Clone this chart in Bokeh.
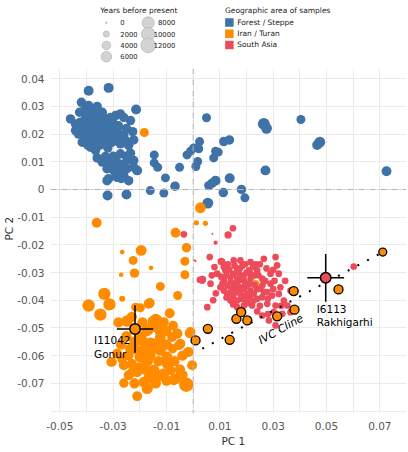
import math
from bokeh.plotting import figure
from bokeh.models import Range1d, FixedTicker, CustomJSTickFormatter, Span, Title, ColumnDataSource
from bokeh.layouts import column
from bokeh.embed import file_html
from bokeh.resources import INLINE
from bokeh.core.properties import value

FONT = "DejaVu Sans"
BLUE = "#3F72A6"
ORANGE = "#FF8C00"
RED = "#EE4B5A"

# ---------------- data: (PC1, PC2, years before present) ----------------
forest_steppe = [
    (-0.0392, 0.0357, 5500), (-0.0317, 0.0367, 5500), (-0.0419, 0.0315, 5000), (-0.0392, 0.0303, 5000),
    (-0.0426, 0.0279, 5000), (-0.0407, 0.0288, 5000), (-0.0341, 0.0279, 5000), (-0.0291, 0.0267, 5000),
    (-0.0273, 0.0273, 5000), (-0.0214, 0.0289, 5500), (-0.0460, 0.0255, 5000), (-0.0441, 0.0237, 5000),
    (-0.0423, 0.0243, 5000), (-0.0404, 0.0255, 5000), (-0.0385, 0.0249, 5000), (-0.0366, 0.0255, 5000),
    (-0.0348, 0.0249, 5000), (-0.0329, 0.0243, 5000), (-0.0310, 0.0237, 5000), (-0.0429, 0.0219, 5000),
    (-0.0410, 0.0225, 5000), (-0.0392, 0.0225, 5000), (-0.0373, 0.0231, 5000), (-0.0354, 0.0225, 5000),
    (-0.0335, 0.0225, 5000), (-0.0317, 0.0219, 5000), (-0.0298, 0.0213, 5000), (-0.0279, 0.0201, 5000),
    (-0.0260, 0.0195, 5000), (-0.0235, 0.0249, 5000), (-0.0227, 0.0209, 5000), (-0.0223, 0.0179, 5000),
    (-0.0254, 0.0177, 5000), (-0.0242, 0.0159, 5000), (-0.0273, 0.0165, 5000), (-0.0304, 0.0171, 5000),
    (-0.0329, 0.0177, 5000), (-0.0354, 0.0177, 5000), (-0.0379, 0.0171, 5000), (-0.0416, 0.0171, 5000),
    (-0.0398, 0.0207, 5000), (-0.0379, 0.0201, 5000), (-0.0360, 0.0195, 5000), (-0.0341, 0.0195, 5000),
    (-0.0441, 0.0213, 5000), (-0.0385, 0.0153, 5000), (-0.0366, 0.0141, 5000), (-0.0360, 0.0114, 5000),
    (-0.0329, 0.0119, 5000), (-0.0310, 0.0099, 5000), (-0.0273, 0.0129, 5000), (-0.0235, 0.0131, 5000),
    (-0.0223, 0.0105, 5000), (-0.0248, 0.0105, 5000), (-0.0279, 0.0093, 5000), (-0.0323, 0.0075, 5000),
    (-0.0298, 0.0069, 5000), (-0.0266, 0.0069, 5000), (-0.0248, 0.0075, 5000), (-0.0210, 0.0069, 5500),
    (-0.0317, 0.0039, 5000), (-0.0285, 0.0044, 5000), (-0.0242, 0.0032, 5000), (-0.0310, 0.0087, 5000),
    (-0.0291, 0.0105, 5000), (-0.0260, 0.0051, 5000), (-0.0323, 0.0032, 5000), (-0.0341, 0.0099, 5000),
    (-0.0223, 0.0081, 5000), (-0.0370, 0.0270, 5000), (-0.0350, 0.0210, 5000), (-0.0310, 0.0260, 5000),
    (-0.0390, 0.0190, 5000), (-0.0300, 0.0190, 5000), (-0.0260, 0.0260, 5000), (-0.0280, 0.0230, 5000),
    (-0.0250, 0.0220, 5000), (-0.0400, 0.0270, 5000), (-0.0380, 0.0285, 5000), (-0.0360, 0.0300, 5000),
    (-0.0340, 0.0265, 5000), (-0.0320, 0.0250, 5000), (-0.0300, 0.0240, 5000), (-0.0420, 0.0230, 5000),
    (-0.0400, 0.0240, 5000), (-0.0370, 0.0240, 5000), (-0.0345, 0.0235, 5000), (-0.0320, 0.0230, 5000),
    (-0.0290, 0.0225, 5000), (-0.0430, 0.0200, 5000), (-0.0410, 0.0195, 5000), (-0.0370, 0.0185, 5000),
    (-0.0345, 0.0185, 5000), (-0.0315, 0.0200, 5000), (-0.0290, 0.0185, 5000), (-0.0395, 0.0160, 5000),
    (-0.0350, 0.0160, 5000), (-0.0320, 0.0150, 5000), (-0.0330, 0.0100, 5000), (-0.0300, 0.0080, 5000),
    (-0.0270, 0.0090, 5000), (-0.0250, 0.0120, 5000), (-0.0300, 0.0120, 5000), (-0.0290, 0.0060, 5000),
    (-0.0270, 0.0040, 5000),
    (-0.0321, -0.0022, 5500), (-0.0250, -0.0018, 5500), (-0.0161, -0.0004, 4500), (-0.0110, -0.0013, 4500),
    (-0.0146, 0.0125, 4500), (-0.0146, 0.0096, 4500), (-0.0133, 0.0080, 4500), (-0.0104, 0.0042, 4500),
    (-0.0068, 0.0012, 5000), (-0.0051, 0.0080, 4500), (-0.0023, 0.0125, 4500), (-0.0010, 0.0138, 4500),
    (0.0002, 0.0150, 4500), (0.0021, 0.0147, 4500), (0.0024, 0.0173, 4500), (0.0010, 0.0083, 4500),
    (0.0017, 0.0101, 4500), (0.0050, 0.0259, 4500), (0.0265, 0.0237, 8000), (0.0275, 0.0221, 6500),
    (0.0404, 0.0253, 4500), (0.0475, 0.0171, 6500), (0.0465, 0.0161, 5500), (0.0725, 0.0066, 5500),
    (0.0077, 0.0114, 4500), (0.0084, 0.0138, 4500), (0.0094, 0.0135, 4500), (0.0115, 0.0173, 5000),
    (0.0136, 0.0179, 5000), (0.0271, 0.0069, 5500), (0.0137, 0.0041, 5500), (0.0084, 0.0032, 5500),
    (0.0059, 0.0014, 5000), (0.0071, 0.0023, 5000), (0.0113, -0.0011, 5000), (0.0181, 0.0000, 5000),
    (0.0194, -0.0030, 4500), (0.0055, -0.0049, 6500),
]

iran_turan = [
    (-0.0183, 0.0206, 4500), (0.0027, -0.0066, 6500), (0.0012, -0.0120, 1500), (0.0046, -0.0122, 1500),
    (-0.0362, -0.0120, 5500), (-0.0066, -0.0156, 5500), (-0.0025, -0.0210, 5000), (-0.0266, -0.0226, 1200),
    (-0.0195, -0.0220, 6500), (-0.0225, -0.0256, 4500), (-0.0031, -0.0259, 4500), (-0.0158, -0.0283, 1200),
    (-0.0220, -0.0302, 5000), (-0.0270, -0.0308, 1200), (-0.0031, -0.0308, 4500), (-0.0123, -0.0350, 4500),
    (-0.0058, -0.0383, 4500), (-0.0333, -0.0377, 8500), (-0.0392, -0.0419, 8500), (-0.0314, -0.0415, 8500),
    (-0.0348, -0.0452, 8500), (-0.0266, -0.0395, 2000), (-0.0216, -0.0425, 4500), (-0.0198, -0.0427, 4500),
    (-0.0163, -0.0410, 5500), (-0.0167, -0.0413, 5500), (-0.0248, -0.0475, 7500), (-0.0152, -0.0475, 5500),
    (-0.0135, -0.0470, 5500), (-0.0110, -0.0479, 5500), (-0.0088, -0.0447, 5500), (-0.0075, -0.0491, 5000),
    (-0.0013, -0.0519, 5500), (-0.0079, -0.0533, 5500), (-0.0054, -0.0563, 5000), (-0.0077, -0.0575, 5000),
    (-0.0020, -0.0587, 5000), (-0.0004, -0.0635, 5500), (-0.0026, -0.0705, 11500), (-0.0073, -0.0687, 6500),
    (-0.0169, -0.0719, 5000), (-0.0210, -0.0747, 5500), (-0.0260, -0.0699, 5000), (-0.0242, -0.0671, 5500),
    (-0.0210, -0.0660, 5500), (-0.0308, -0.0623, 5000), (-0.0260, -0.0635, 5500), (-0.0266, -0.0611, 5500),
    (-0.0173, -0.0617, 8500), (-0.0148, -0.0653, 7500), (-0.0135, -0.0678, 6500), (-0.0110, -0.0665, 6500),
    (-0.0098, -0.0629, 6500), (-0.0123, -0.0581, 6500), (-0.0160, -0.0557, 8500), (-0.0198, -0.0533, 7500),
    (-0.0173, -0.0509, 7500), (-0.0135, -0.0497, 6500), (-0.0123, -0.0533, 6500), (-0.0098, -0.0605, 6500),
    (-0.0185, -0.0696, 6500), (-0.0285, -0.0593, 5500), (-0.0235, -0.0575, 6500), (-0.0148, -0.0575, 6500),
    (-0.0198, -0.0605, 7500), (-0.0085, -0.0653, 5500), (-0.0141, -0.0467, 5500), (-0.0123, -0.0515, 6500),
    (-0.0010, -0.0515, 5500), (-0.0048, -0.0557, 5500), (-0.0017, -0.0587, 5500), (-0.0148, -0.0563, 9500),
    (-0.0198, -0.0539, 9500), (-0.0173, -0.0587, 9500), (-0.0092, -0.0629, 6500), (-0.0242, -0.0599, 5500),
    (-0.0304, -0.0623, 5000), (-0.0229, -0.0660, 5500), (-0.0204, -0.0647, 8500), (-0.0160, -0.0678, 9500),
    (-0.0123, -0.0671, 6500), (-0.0066, -0.0683, 6500), (-0.0173, -0.0719, 6500), (0.0234, -0.0340, 3000),
    (-0.0280, -0.0480, 6000), (-0.0230, -0.0460, 6000), (-0.0190, -0.0480, 6000), (-0.0160, -0.0500, 6000),
    (-0.0100, -0.0510, 6000), (-0.0060, -0.0520, 6000), (-0.0250, -0.0530, 6000), (-0.0220, -0.0550, 6000),
    (-0.0180, -0.0560, 6000), (-0.0130, -0.0550, 6000), (-0.0100, -0.0560, 6000), (-0.0040, -0.0600, 6000),
    (-0.0270, -0.0560, 6000), (-0.0210, -0.0580, 6000), (-0.0160, -0.0600, 6000), (-0.0130, -0.0620, 6000),
    (-0.0070, -0.0620, 6000), (-0.0050, -0.0650, 6000), (-0.0230, -0.0630, 6000), (-0.0180, -0.0650, 6000),
    (-0.0100, -0.0690, 6000), (-0.0140, -0.0700, 6000), (-0.0220, -0.0700, 6000), (-0.0040, -0.0670, 6000),
]

south_asia = [
    (-0.0035, -0.0162, 2500), (0.0149, -0.0140, 2500), (0.0131, -0.0164, 3000), (0.0084, -0.0192, 1000),
    (0.0072, -0.0160, 200), (0.0062, -0.0244, 2500), (0.0009, -0.0259, 200), (0.0105, -0.0260, 3000),
    (0.0035, -0.0325, 3000), (0.0025, -0.0326, 2500), (0.0005, -0.0256, 300),
    (0.0109, -0.0262, 2500), (0.0152, -0.0256, 2500), (0.0177, -0.0256, 2500), (0.0215, -0.0262, 2500),
    (0.0265, -0.0250, 2500), (0.0309, -0.0244, 2500), (0.0315, -0.0274, 2500), (0.0090, -0.0304, 2500),
    (0.0034, -0.0329, 2500), (0.0065, -0.0340, 2500), (0.0121, -0.0292, 2500), (0.0165, -0.0292, 2500),
    (0.0209, -0.0292, 2500), (0.0240, -0.0292, 2500), (0.0259, -0.0322, 2500), (0.0290, -0.0304, 2500),
    (0.0321, -0.0304, 2500), (0.0115, -0.0329, 2500), (0.0140, -0.0317, 2500), (0.0165, -0.0322, 2500),
    (0.0190, -0.0329, 2500), (0.0215, -0.0322, 2500), (0.0290, -0.0340, 2500), (0.0327, -0.0353, 2500),
    (0.0102, -0.0353, 2500), (0.0128, -0.0347, 2500), (0.0152, -0.0340, 2500), (0.0177, -0.0353, 2500),
    (0.0203, -0.0347, 2500), (0.0252, -0.0358, 2500), (0.0278, -0.0371, 2500), (0.0128, -0.0377, 2500),
    (0.0152, -0.0377, 2500), (0.0177, -0.0377, 2500), (0.0203, -0.0377, 2500), (0.0227, -0.0377, 2500),
    (0.0140, -0.0401, 2500), (0.0165, -0.0401, 2500), (0.0196, -0.0401, 2500), (0.0227, -0.0401, 2500),
    (0.0259, -0.0389, 2500), (0.0296, -0.0383, 2500), (0.0321, -0.0377, 2500), (0.0165, -0.0425, 2500),
    (0.0190, -0.0419, 2500), (0.0221, -0.0419, 2500), (0.0053, -0.0425, 2500), (0.0278, -0.0413, 2500),
    (0.0309, -0.0419, 2500), (0.0340, -0.0401, 2500), (0.0353, -0.0419, 2500), (0.0302, -0.0443, 2500),
    (0.0334, -0.0449, 2500), (0.0365, -0.0443, 2500), (0.0259, -0.0455, 2500), (0.0284, -0.0473, 2500),
    (0.0309, -0.0491, 2500), (0.0365, -0.0365, 2500), (0.0170, -0.0300, 2500), (0.0190, -0.0310, 2500),
    (0.0210, -0.0340, 2500), (0.0180, -0.0360, 2500), (0.0230, -0.0310, 2500), (0.0160, -0.0345, 2500),
    (0.0195, -0.0385, 2500), (0.0240, -0.0360, 2500), (0.0145, -0.0360, 2500), (0.0215, -0.0305, 2500),
    (0.0185, -0.0275, 2500), (0.0235, -0.0270, 2500), (0.0130, -0.0270, 2500), (0.0602, -0.0278, 2500),
    (0.0115, -0.0280, 2500), (0.0135, -0.0290, 2500), (0.0155, -0.0275, 2500), (0.0175, -0.0285, 2500),
    (0.0195, -0.0270, 2500), (0.0225, -0.0280, 2500), (0.0250, -0.0270, 2500), (0.0275, -0.0285, 2500),
    (0.0300, -0.0290, 2500), (0.0105, -0.0315, 2500), (0.0125, -0.0310, 2500), (0.0150, -0.0305, 2500),
    (0.0180, -0.0315, 2500), (0.0200, -0.0300, 2500), (0.0245, -0.0310, 2500), (0.0270, -0.0330, 2500),
    (0.0110, -0.0340, 2500), (0.0140, -0.0335, 2500), (0.0170, -0.0330, 2500), (0.0195, -0.0345, 2500),
    (0.0230, -0.0345, 2500), (0.0260, -0.0345, 2500), (0.0305, -0.0330, 2500), (0.0115, -0.0365, 2500),
    (0.0140, -0.0370, 2500), (0.0165, -0.0365, 2500), (0.0190, -0.0360, 2500), (0.0215, -0.0365, 2500),
    (0.0265, -0.0370, 2500), (0.0300, -0.0360, 2500), (0.0125, -0.0390, 2500), (0.0150, -0.0390, 2500),
    (0.0180, -0.0395, 2500), (0.0210, -0.0390, 2500), (0.0240, -0.0395, 2500), (0.0280, -0.0395, 2500),
    (0.0150, -0.0415, 2500), (0.0205, -0.0410, 2500), (0.0250, -0.0420, 2500), (0.0180, -0.0440, 2500),
    (0.0240, -0.0440, 2500), (0.0280, -0.0450, 2500), (0.0080, -0.0280, 2500), (0.0070, -0.0310, 2500),
    (0.0085, -0.0375, 2500), (0.0075, -0.0400, 2500), (0.0330, -0.0420, 2500), (0.0345, -0.0330, 2500),
]

# IVC Cline samples (Iran / Turan, outlined)
ivc_x = [0.0009, 0.0055, 0.0137, 0.0162, 0.0180, 0.0203, 0.0315, 0.0377, 0.0380, 0.0545, 0.0711]
ivc_y = [-0.0545, -0.0503, -0.0543, -0.0467, -0.0443, -0.0473, -0.0458, -0.0367, -0.0434, -0.0361, -0.0226]
ivc_age = [4500, 4500, 4500, 4500, 4500, 4500, 4500, 4500, 4500, 4500, 3500]

cline_x = [0.0034, 0.0711]
cline_y = [-0.0575, -0.0226]

# highlighted individuals with standard errors
hl_name = ["I11042", "I6113"]
hl_site = ["Gonur", "Rakhigarhi"]
hl_x = [-0.0218, 0.0497]
hl_y = [-0.0504, -0.0319]
hl_xerr = [0.0068, 0.0069]
hl_yerr = [0.0086, 0.0086]
hl_group = ["Iran / Turan", "South Asia"]

legend_years = [0, 2000, 4000, 6000, 8000, 10000, 12000]
groups = ["Forest / Steppe", "Iran / Turan", "South Asia"]
group_colors = {"Forest / Steppe": BLUE, "Iran / Turan": ORANGE, "South Asia": RED}

x_ticks = [-0.05, -0.03, -0.01, 0.01, 0.03, 0.05, 0.07]
y_ticks = [0.04, 0.03, 0.02, 0.01, 0.0, -0.01, -0.02, -0.03, -0.04, -0.05, -0.06, -0.07]


def age_to_size(a):
    return max(1.6, 14.7 * math.sqrt(a / 12000.0))


# ---------------- main plot ----------------
p = figure(width=408, height=384, x_range=Range1d(-0.0535, 0.0800), y_range=Range1d(-0.0809, 0.0437),
           output_backend="svg", toolbar_location=None,
           min_border_left=50, min_border_right=2, min_border_top=0, min_border_bottom=39)
p.outline_line_color = None
p.background_fill_color = "white"
p.border_fill_color = "white"

p.xaxis.ticker = FixedTicker(ticks=x_ticks, minor_ticks=[])
p.yaxis.ticker = FixedTicker(ticks=y_ticks, minor_ticks=[])
p.xgrid.ticker = FixedTicker(ticks=[round(-0.05 + 0.01 * i, 2) for i in range(14)])
p.ygrid.ticker = FixedTicker(ticks=[round(-0.08 + 0.01 * i, 2) for i in range(13)])
for g in (p.xgrid, p.ygrid):
    g.grid_line_color = "#EBEBEB"
    g.grid_line_width = 1

fmt = CustomJSTickFormatter(code="return Math.abs(tick) < 1e-9 ? '0' : tick.toFixed(2);")
for ax in (p.xaxis, p.yaxis):
    ax.formatter = fmt
    ax.axis_line_color = None
    ax.major_tick_line_color = None
    ax.minor_tick_line_color = None
    ax.major_tick_out = 0
    ax.major_tick_in = 0
    ax.minor_tick_out = 0
    ax.minor_tick_in = 0
    ax.major_label_text_font = FONT
    ax.major_label_text_font_size = "10.5px"
    ax.major_label_text_color = "#555555"
p.xaxis.major_label_standoff = 8
p.yaxis.major_label_standoff = 6

p.add_layout(Title(text="PC 1", align="left", offset=171, standoff=0, text_font=FONT,
                   text_font_size="10.5px", text_font_style="normal", text_color="#333333"), "below")
p.add_layout(Title(text="PC 2", align="left", offset=173, standoff=0, text_font=FONT,
                   text_font_size="10.5px", text_font_style="normal", text_color="#333333"), "left")

for loc_dim in ("height", "width"):
    p.add_layout(Span(location=0, dimension=loc_dim, line_color="#B5B5B5", line_width=1,
                      line_dash="6 2 1 2"))


def src(rows):
    return ColumnDataSource(dict(x=[r[0] for r in rows], y=[r[1] for r in rows],
                                 s=[age_to_size(r[2]) for r in rows]))


p.scatter(x="x", y="y", size="s", source=src(forest_steppe), fill_color=BLUE, line_color=None)
p.scatter(x="x", y="y", size="s", source=src(iran_turan), fill_color=ORANGE, line_color=None)
p.scatter(x="x", y="y", size="s", source=src(south_asia), fill_color=RED, line_color=None)

# IVC cline samples
p.scatter(x=ivc_x, y=ivc_y, size=[age_to_size(a) for a in ivc_age], fill_color=ORANGE,
          line_color="black", line_width=1.3)
p.line(x=cline_x, y=cline_y, line_color="black", line_width=2, line_dash="2 9")
p.text(x=[0.0329], y=[-0.0505], text=["IVC Cline"], angle=29, angle_units="deg",
       text_font=value(FONT), text_font_style="italic", text_font_size="11px",
       text_align="center", text_baseline="middle", text_color="black")

# highlighted individuals with error crosses
p.segment(x0=[x - e for x, e in zip(hl_x, hl_xerr)], y0=hl_y,
          x1=[x + e for x, e in zip(hl_x, hl_xerr)], y1=hl_y, line_color="black", line_width=1.5)
p.segment(x0=hl_x, y0=[y - e for y, e in zip(hl_y, hl_yerr)],
          x1=hl_x, y1=[y + e for y, e in zip(hl_y, hl_yerr)], line_color="black", line_width=1.5)
p.scatter(x=hl_x, y=hl_y, size=10.5, fill_color=[group_colors[g] for g in hl_group],
          line_color="black", line_width=1.5)
label_dx = [-41, -9]
p.text(x=hl_x, y=hl_y, text=hl_name, x_offset=label_dx, y_offset=[10.5, 31],
       text_font=value(FONT), text_font_size="10.5px", text_align="left", text_baseline="middle",
       text_color="black")
p.text(x=hl_x, y=hl_y, text=hl_site, x_offset=label_dx, y_offset=[24.5, 44.5],
       text_font=value(FONT), text_font_size="10.5px", text_align="left", text_baseline="middle",
       text_color="black")

# ---------------- legend header ----------------
lg = figure(width=408, height=68, x_range=Range1d(0, 408), y_range=Range1d(68, 0),
            output_backend="svg", toolbar_location=None, x_axis_location=None, y_axis_location=None,
            min_border=0)
lg.grid.visible = False
lg.outline_line_color = None
lg.background_fill_color = "white"
lg.border_fill_color = "white"

lg.text(x=[57], y=[9.5], text=["Years before present"], text_font=value(FONT), text_font_size="7.5px",
        text_color="#222222", text_baseline="middle", text_align="left")
cx, cy, lx, la, lt = [], [], [], [], []
for i, yr in enumerate(legend_years):
    col, row = (0, i) if i < 4 else (1, i - 4)
    cx.append(64 if col == 0 else 112)
    cy.append(22.3 + 11.3 * row)
    lx.append(80 if col == 0 else 143)
    la.append("left" if col == 0 else "right")
    lt.append(str(yr))
lg.scatter(x=cx, y=cy, size=[age_to_size(y) for y in legend_years], fill_color="#D3D3D3",
           line_color="#B8B8B8", line_width=0.8)
lg.text(x=lx, y=cy, text=lt, text_align=la, text_baseline="middle", text_font=value(FONT),
        text_font_size="6.8px", text_color="#222222")

lg.text(x=[200], y=[9.5], text=["Geographic area of samples"], text_font=value(FONT),
        text_font_size="7.5px", text_color="#222222", text_baseline="middle", text_align="left")
gy = [22 + 11.2 * i for i in range(len(groups))]
lg.scatter(x=[205] * len(groups), y=gy, marker="square", size=8.5,
           fill_color=[group_colors[g] for g in groups], line_color=None)
lg.text(x=[214] * len(groups), y=gy, text=groups, text_align="left", text_baseline="middle",
        text_font=value(FONT), text_font_size="7.5px", text_color="#222222")

layout = column(lg, p, spacing=0)
open("out.html", "w").write(file_html(layout, INLINE))
